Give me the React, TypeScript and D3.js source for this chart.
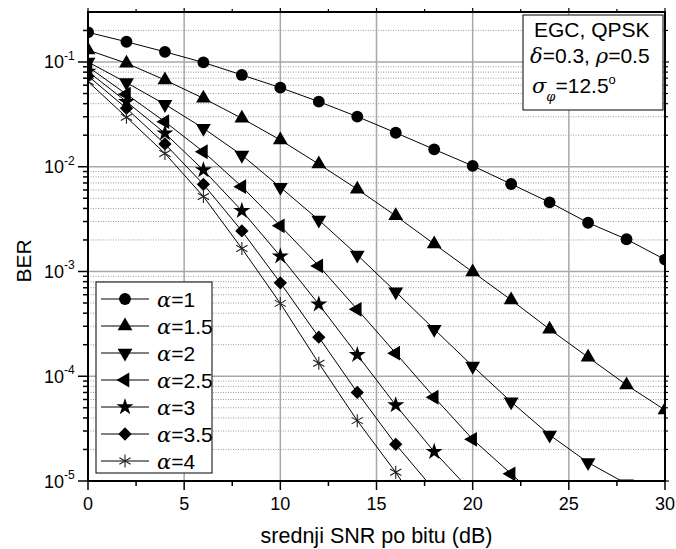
import React from "react";
import * as d3 from "d3";

const snr = [0, 2, 4, 6, 8, 10, 12, 14, 16, 18, 20, 22, 24, 26, 28, 30];

const berA1 = [0.192, 0.156, 0.125, 0.099, 0.0752, 0.0569, 0.0418, 0.0301, 0.0211, 0.01465, 0.0102, 0.00684, 0.00457, 0.00292, 0.00203, 0.0013];
const berA15 = [0.13, 0.0973, 0.0673, 0.045, 0.029, 0.018, 0.0106, 0.0061, 0.0034, 0.00183, 0.00099, 0.000535, 0.000281, 0.000152, 8.25e-5, 4.76e-5];
const berA2 = [0.1, 0.0635, 0.0394, 0.0233, 0.0129, 0.00637, 0.0031, 0.00144, 0.00064, 0.000281, 0.000125, 5.7e-5, 2.75e-5, 1.5e-5, 9.4e-6];
const berA25 = [0.09, 0.0492, 0.0269, 0.0139, 0.00645, 0.00273, 0.00113, 0.000435, 0.000166, 6.3e-5, 2.5e-5, 1.17e-5, 5.5e-6];
const berA3 = [0.081, 0.0418, 0.0209, 0.0093, 0.0038, 0.0014, 0.000486, 0.00016, 5.3e-5, 1.9e-5, 7.7e-6];
const berA35 = [0.0735, 0.0361, 0.0165, 0.0068, 0.00244, 0.00078, 0.000236, 7e-5, 2.24e-5, 8.2e-6];
const berA4 = [0.065, 0.0297, 0.0134, 0.0052, 0.00166, 0.000496, 0.000133, 3.77e-5, 1.21e-5, 3.4e-6];

const seriesLabels = ["1", "1.5", "2", "2.5", "3", "3.5", "4"];
const seriesValues = [berA1, berA15, berA2, berA25, berA3, berA35, berA4];
const markerTypes = ["circle", "triUp", "triDown", "triLeft", "star", "diamond", "asterisk"];

const xMajorTicks = [0, 5, 10, 15, 20, 25, 30];
const xMinorTicks = [2.5, 7.5, 12.5, 17.5, 22.5, 27.5];
const yDecades = [-5, -4, -3, -2, -1];

const FONT = "'Liberation Sans', Arial, Helvetica, sans-serif";

const W = 676, H = 549;
const L = 88, R = 665, T = 12, B = 481;

const x = d3.scaleLinear().domain([0, 30]).range([L, R]);
const y = d3.scaleLog().domain([1e-5, 0.3]).range([B, T]);

const triPath = d3.symbol().type(d3.symbolTriangle).size(95)() as string;
const circlePath = d3.symbol().type(d3.symbolCircle).size(110)() as string;
const starPath = d3.symbol().type(d3.symbolStar).size(90)() as string;
const squarePath = d3.symbol().type(d3.symbolSquare).size(88)() as string;

function asteriskPath(r: number) {
  const p = d3.path();
  for (let k = 0; k < 3; k++) {
    const a = Math.PI / 2 + (k * Math.PI) / 3;
    p.moveTo(-r * Math.cos(a), -r * Math.sin(a));
    p.lineTo(r * Math.cos(a), r * Math.sin(a));
  }
  return p.toString();
}

function Marker({ type, cx, cy }: { type: string; cx: number; cy: number }) {
  const t = `translate(${cx},${cy})`;
  switch (type) {
    case "circle":
      return <path d={circlePath} transform={t} fill="#000" />;
    case "triUp":
      return <path d={triPath} transform={t} fill="#000" />;
    case "triDown":
      return <path d={triPath} transform={`${t} rotate(180)`} fill="#000" />;
    case "triLeft":
      return <path d={triPath} transform={`${t} rotate(-90)`} fill="#000" />;
    case "star":
      return <path d={starPath} transform={t} fill="#000" />;
    case "diamond":
      return <path d={squarePath} transform={`${t} rotate(45)`} fill="#000" />;
    default:
      return <path d={asteriskPath(6.5)} transform={t} fill="none" stroke="#222" strokeWidth={1.1} />;
  }
}

export default function App() {
  const minorY: number[] = [];
  for (let e = -5; e <= -1; e++) {
    for (let m = 2; m <= 9; m++) {
      const v = m * Math.pow(10, e);
      if (v <= 0.3) minorY.push(v);
    }
  }
  const line = d3
    .line<[number, number]>()
    .x((d) => x(d[0]))
    .y((d) => y(d[1]));

  const legX0 = 96, legY0 = 282, legW = 116, legH = 191;
  const legRow = (i: number) => 299 + i * 27;

  return (
    <svg width={W} height={H} style={{ display: "block", position: "absolute", left: 0, top: 0 }} fontFamily={FONT}>
      <defs>
        <clipPath id="plotClip">
          <rect x={L} y={T} width={R - L} height={B - T} />
        </clipPath>
      </defs>
      <rect x={0} y={0} width={W} height={H} fill="#fff" />
      {minorY.map((v, i) => (
        <line key={"mg" + i} x1={L} x2={R} y1={y(v)} y2={y(v)} stroke="#9a9a9a" strokeWidth={1} strokeDasharray="1,1.5" />
      ))}
      {yDecades.map((e) => (
        <line key={"gy" + e} x1={L} x2={R} y1={y(Math.pow(10, e))} y2={y(Math.pow(10, e))} stroke="#a8a8a8" strokeWidth={1.5} />
      ))}
      {xMajorTicks.map((t) => (
        <line key={"gx" + t} x1={x(t)} x2={x(t)} y1={T} y2={B} stroke="#a8a8a8" strokeWidth={1.5} />
      ))}
      <g clipPath="url(#plotClip)">
        {seriesValues.map((vals, si) => {
          const pts: [number, number][] = vals.map((v, i) => [snr[i], v]);
          return <path key={"l" + si} d={line(pts) as string} fill="none" stroke="#000" strokeWidth={1} />;
        })}
        {seriesValues.map((vals, si) =>
          vals.map((v, i) => <Marker key={"m" + si + "-" + i} type={markerTypes[si]} cx={x(snr[i])} cy={y(v)} />)
        )}
      </g>
      <rect x={L} y={T} width={R - L} height={B - T} fill="none" stroke="#000" strokeWidth={2} />
      {yDecades.map((e) => (
        <line key={"ty" + e} x1={L - 10} x2={L} y1={y(Math.pow(10, e))} y2={y(Math.pow(10, e))} stroke="#000" strokeWidth={1.5} />
      ))}
      {minorY.map((v, i) => (
        <line key={"tmy" + i} x1={L - 5} x2={L} y1={y(v)} y2={y(v)} stroke="#000" strokeWidth={1.5} />
      ))}
      {yDecades.map((e) => (
        <line key={"try" + e} x1={R} x2={R + 4} y1={y(Math.pow(10, e))} y2={y(Math.pow(10, e))} stroke="#000" strokeWidth={1.2} />
      ))}
      {minorY.map((v, i) => (
        <line key={"trmy" + i} x1={R} x2={R + 3} y1={y(v)} y2={y(v)} stroke="#000" strokeWidth={1.2} />
      ))}
      {xMajorTicks.map((t) => (
        <line key={"tx" + t} x1={x(t)} x2={x(t)} y1={B} y2={B + 9} stroke="#000" strokeWidth={1.5} />
      ))}
      {xMinorTicks.map((t) => (
        <line key={"tmx" + t} x1={x(t)} x2={x(t)} y1={B} y2={B + 5} stroke="#000" strokeWidth={1.5} />
      ))}
      {xMajorTicks.map((t) => (
        <line key={"ttx" + t} x1={x(t)} x2={x(t)} y1={T - 4} y2={T} stroke="#000" strokeWidth={1.2} />
      ))}
      {xMinorTicks.map((t) => (
        <line key={"ttmx" + t} x1={x(t)} x2={x(t)} y1={T - 3} y2={T} stroke="#000" strokeWidth={1.2} />
      ))}
      {xMajorTicks.map((t) => (
        <text key={"lx" + t} x={x(t)} y={510} textAnchor="middle" fontSize={18} fill="#000">
          {t}
        </text>
      ))}
      {yDecades.map((e) => (
        <text key={"ly" + e} x={44} y={y(Math.pow(10, e)) + 6.5} fontSize={18} fill="#000">
          10
          <tspan fontSize={12} dy={-8.5}>
            {"-" + -e}
          </tspan>
        </text>
      ))}
      <text x={(L + R) / 2} y={543} textAnchor="middle" fontSize={21.5} fill="#000">
        srednji SNR po bitu (dB)
      </text>
      <text transform="translate(31,261) rotate(-90)" textAnchor="middle" fontSize={21} fill="#000">
        BER
      </text>
      <rect x={legX0} y={legY0} width={legW} height={legH} fill="#fff" stroke="#000" strokeWidth={1} />
      {seriesLabels.map((lab, i) => (
        <g key={"leg" + i}>
          <line x1={101} x2={149} y1={legRow(i)} y2={legRow(i)} stroke="#000" strokeWidth={1} />
          <Marker type={markerTypes[i]} cx={125} cy={legRow(i)} />
          <text x={157} y={legRow(i) + 7.5} fontSize={21} fill="#000">
            <tspan fontStyle="italic" fontFamily="'DejaVu Serif', serif">α</tspan>
            {"=" + lab}
          </text>
        </g>
      ))}
      <rect x={523} y={15} width={140} height={95} fill="#fff" stroke="#000" strokeWidth={1} />
      <text x={534} y={37} fontSize={21} fill="#000">
        EGC, QPSK
      </text>
      <text x={530} y={63} fontSize={21} fill="#000">
        <tspan fontStyle="italic" fontFamily="'DejaVu Serif', serif">δ</tspan>
        {"=0.3, "}
        <tspan fontStyle="italic" fontFamily="'DejaVu Serif', serif">ρ</tspan>
        {"=0.5"}
      </text>
      <text x={532} y={93} fontSize={21} fill="#000">
        <tspan fontStyle="italic" fontFamily="'DejaVu Serif', serif">σ</tspan>
        <tspan fontStyle="italic" fontFamily="'DejaVu Serif', serif" fontSize={13} dy={8}>φ</tspan>
        <tspan dy={-8}>=12.5</tspan>
        <tspan fontSize={13} dy={-9}>o</tspan>
      </text>
    </svg>
  );
}
